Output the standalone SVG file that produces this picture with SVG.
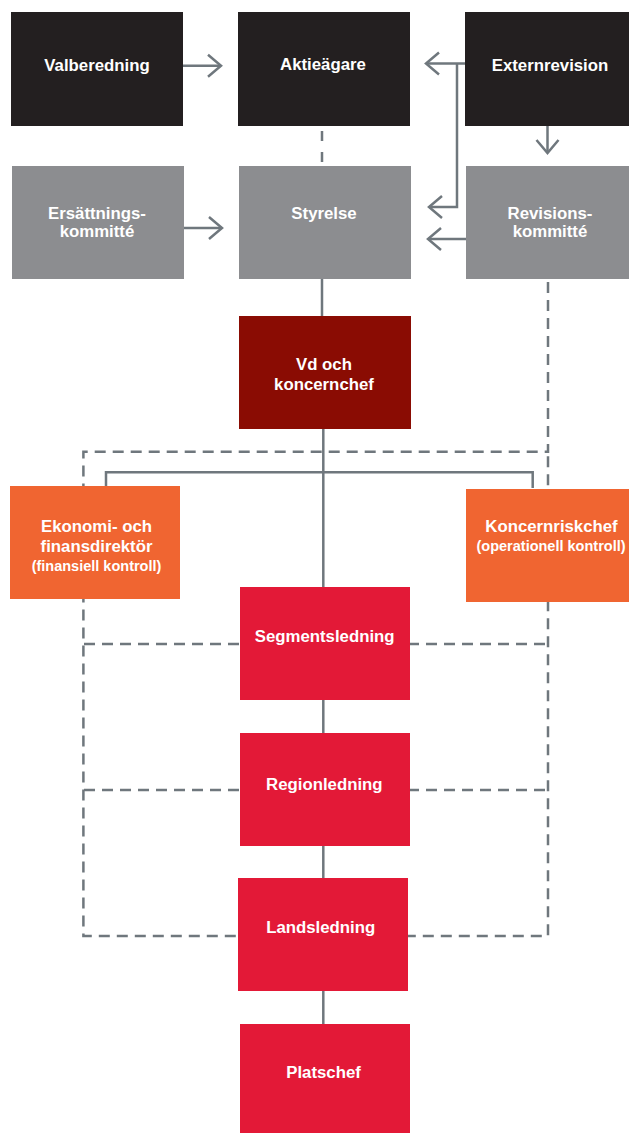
<svg xmlns="http://www.w3.org/2000/svg" width="629" height="1133" viewBox="0 0 629 1133">
<style>
.t{font-family:"Liberation Sans",Arial,sans-serif;font-weight:bold;font-size:16.8px;fill:#ffffff;text-anchor:middle}
.s{font-size:14.5px}
.ln{fill:none;stroke:#6f777d;stroke-width:2.5}
.ds{stroke-dasharray:11 7}
.blk{fill:#231f20}
.gry{fill:#8c8d90}
.dred{fill:#8a0c03}
.org{fill:#f06531}
.red{fill:#e31937}
</style>
<defs>
<marker id="arr" markerUnits="userSpaceOnUse" viewBox="-16 -14 19 28" refX="0" refY="0" markerWidth="19" markerHeight="28" orient="auto">
<path d="M-13 -11 L0 0 L-13 11" fill="none" stroke="#6f777d" stroke-width="2.5"/>
</marker>
</defs>
<g id="connectors">
<path class="ln ds" d="M548 282 V451.7 H83.4 V936 H548 V451.7"/>
<path class="ln ds" d="M84 644 H548"/>
<path class="ln ds" d="M84 790 H548"/>
<path class="ln" d="M322 131 V162" stroke-dasharray="10 11"/>
<path class="ln" d="M183 65.7 H221" marker-end="url(#arr)"/>
<path class="ln" d="M184 228 H222" marker-end="url(#arr)"/>
<path class="ln" d="M465 63.5 H426" marker-end="url(#arr)"/>
<path class="ln" d="M457 63.5 V207 H429" marker-end="url(#arr)"/>
<path class="ln" d="M547.5 126 V153" marker-end="url(#arr)"/>
<path class="ln" d="M466 239 H428" marker-end="url(#arr)"/>
<path class="ln" d="M322 279 V316"/>
<path class="ln" d="M323.3 429 V587"/>
<path class="ln" d="M106 487 V472.3 H532.7 V488"/>
<path class="ln" d="M323.3 700 V733"/>
<path class="ln" d="M323.3 846 V878"/>
<path class="ln" d="M323.3 991 V1024"/>
</g>
<g id="valberedning"><rect class="blk" x="11" y="12" width="172" height="114"/><text class="t" x="97" y="71">Valberedning</text></g>
<g id="aktieagare"><rect class="blk" x="238" y="12" width="172" height="114"/><text class="t" x="323" y="69.5">Aktieägare</text></g>
<g id="externrevision"><rect class="blk" x="465" y="12" width="164" height="114"/><text class="t" x="550" y="71">Externrevision</text></g>
<g id="ersattningskommitte"><rect class="gry" x="12" y="166" width="172" height="113"/><text class="t" x="97" y="218.5">Ersättnings-</text><text class="t" x="97" y="237">kommitté</text></g>
<g id="styrelse"><rect class="gry" x="239" y="166" width="172" height="113"/><text class="t" x="324" y="219">Styrelse</text></g>
<g id="revisionskommitte"><rect class="gry" x="466" y="166" width="163" height="113"/><text class="t" x="550" y="218.5">Revisions-</text><text class="t" x="550" y="237">kommitté</text></g>
<g id="vd"><rect class="dred" x="239" y="316" width="172" height="113"/><text class="t" x="324" y="369.5">Vd och</text><text class="t" x="324" y="389.5">koncernchef</text></g>
<g id="ekonomi"><rect class="org" x="10" y="486" width="170" height="113"/><text class="t" x="96.5" y="531.7">Ekonomi- och</text><text class="t" x="96.5" y="551.7">finansdirektör</text><text class="t s" x="96.5" y="571">(finansiell kontroll)</text></g>
<g id="koncernriskchef"><rect class="org" x="466" y="489" width="163" height="113"/><text class="t" x="551.5" y="532.3">Koncernriskchef</text><text class="t s" x="551" y="551">(operationell kontroll)</text></g>
<g id="segmentsledning"><rect class="red" x="240" y="587" width="170" height="113"/><text class="t" x="324.7" y="642.3">Segmentsledning</text></g>
<g id="regionledning"><rect class="red" x="240" y="733" width="170" height="113"/><text class="t" x="324.3" y="790">Regionledning</text></g>
<g id="landsledning"><rect class="red" x="238" y="878" width="170" height="113"/><text class="t" x="320.7" y="933.3">Landsledning</text></g>
<g id="platschef"><rect class="red" x="240" y="1024" width="170" height="109"/><text class="t" x="323.5" y="1078.3">Platschef</text></g>
</svg>
